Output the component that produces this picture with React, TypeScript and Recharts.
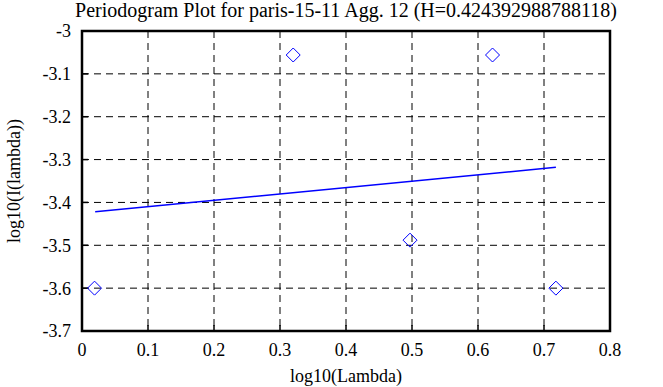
import React from 'react';
import {
  ComposedChart,
  XAxis,
  YAxis,
  CartesianGrid,
  Scatter,
  ReferenceLine,
  ReferenceArea,
} from 'recharts';

const pointX = [0.019, 0.32, 0.497, 0.622, 0.718];
const pointY = [-3.6, -3.056, -3.488, -3.056, -3.6];
const fitX = [0.02, 0.718];
const fitY = [-3.422, -3.318];
const xTicks = [0, 0.1, 0.2, 0.3, 0.4, 0.5, 0.6, 0.7, 0.8];
const yTicks = [-3.7, -3.6, -3.5, -3.4, -3.3, -3.2, -3.1, -3];

const points = pointX.map((x, i) => ({ x, y: pointY[i] }));
const fitSegment = fitX.map((x, i) => ({ x, y: fitY[i] }));

const FONT = '"Liberation Serif", Tinos, "Times New Roman", Times, "Noto Serif", "DejaVu Serif", serif';

const Diamond = (props: any) => {
  const { cx, cy } = props;
  const h = 7;
  return (
    <path
      d={`M${cx},${cy - h} L${cx + h},${cy} L${cx},${cy + h} L${cx - h},${cy} Z`}
      fill="none"
      stroke="#0000ff"
      strokeWidth={1}
    />
  );
};

const fmt = (v: number) => String(v);

export default function App() {
  const tickStyle = { fill: '#000', fontSize: 18, fontFamily: FONT };
  return (
    <div style={{ position: 'absolute', left: 0, top: 0, width: 663, height: 387, background: '#fff' }}>
      <div
        style={{
          position: 'absolute',
          left: 0,
          width: 692,
          top: -1,
          textAlign: 'center',
          fontFamily: FONT,
          fontSize: 20,
          lineHeight: '22px',
          color: '#000',
          whiteSpace: 'nowrap',
        }}
      >
        Periodogram Plot for paris-15-11 Agg. 12 (H=0.424392988788118)
      </div>
      <ComposedChart
        width={663}
        height={387}
        margin={{ top: 31, right: 53, bottom: 5, left: 0 }}
        style={{ position: 'absolute', left: 0, top: 0 }}
      >
        <CartesianGrid stroke="#000" strokeDasharray="7 5" strokeWidth={1} />
        <XAxis
          type="number"
          dataKey="x"
          domain={[0, 0.8]}
          ticks={xTicks}
          tickFormatter={fmt}
          height={51}
          axisLine={false}
          tickLine={{ stroke: '#000', strokeWidth: 1.5 }}
          tickSize={-6}
          tickMargin={18}
          tick={tickStyle}
          interval={0}
          allowDataOverflow
          label={{
            value: 'log10(Lambda)',
            position: 'insideBottom',
            offset: 0,
            style: { fill: '#000', fontSize: 18, fontFamily: FONT },
          }}
        />
        <XAxis
          xAxisId="top"
          orientation="top"
          type="number"
          domain={[0, 0.8]}
          ticks={xTicks}
          tickFormatter={() => ''}
          height={0}
          axisLine={false}
          tickLine={{ stroke: '#000', strokeWidth: 1.5 }}
          tickSize={-6}
          interval={0}
        />
        <YAxis
          type="number"
          dataKey="y"
          domain={[-3.7, -3]}
          ticks={yTicks}
          tickFormatter={fmt}
          width={82}
          axisLine={false}
          tickLine={{ stroke: '#000', strokeWidth: 1.5 }}
          tickSize={-6}
          tickMargin={17}
          tick={tickStyle}
          interval={0}
          allowDataOverflow
          label={{
            value: 'log10(I(lambda))',
            angle: -90,
            position: 'insideLeft',
            offset: 14,
            style: { textAnchor: 'middle', fill: '#000', fontSize: 18, fontFamily: FONT },
          }}
        />
        <YAxis
          yAxisId="right"
          orientation="right"
          type="number"
          domain={[-3.7, -3]}
          ticks={yTicks}
          tickFormatter={() => ''}
          width={0}
          axisLine={false}
          tickLine={{ stroke: '#000', strokeWidth: 1.5 }}
          tickSize={-6}
          interval={0}
        />
        <ReferenceArea
          x1={0}
          x2={0.8}
          y1={-3.7}
          y2={-3}
          fill="none"
          fillOpacity={0}
          stroke="#000"
          strokeWidth={2.5}
        />
        <ReferenceLine
          segment={fitSegment}
          stroke="#0000ff"
          strokeWidth={1.5}
          ifOverflow="visible"
        />
        <Scatter data={points} shape={<Diamond />} isAnimationActive={false} />
      </ComposedChart>
    </div>
  );
}
